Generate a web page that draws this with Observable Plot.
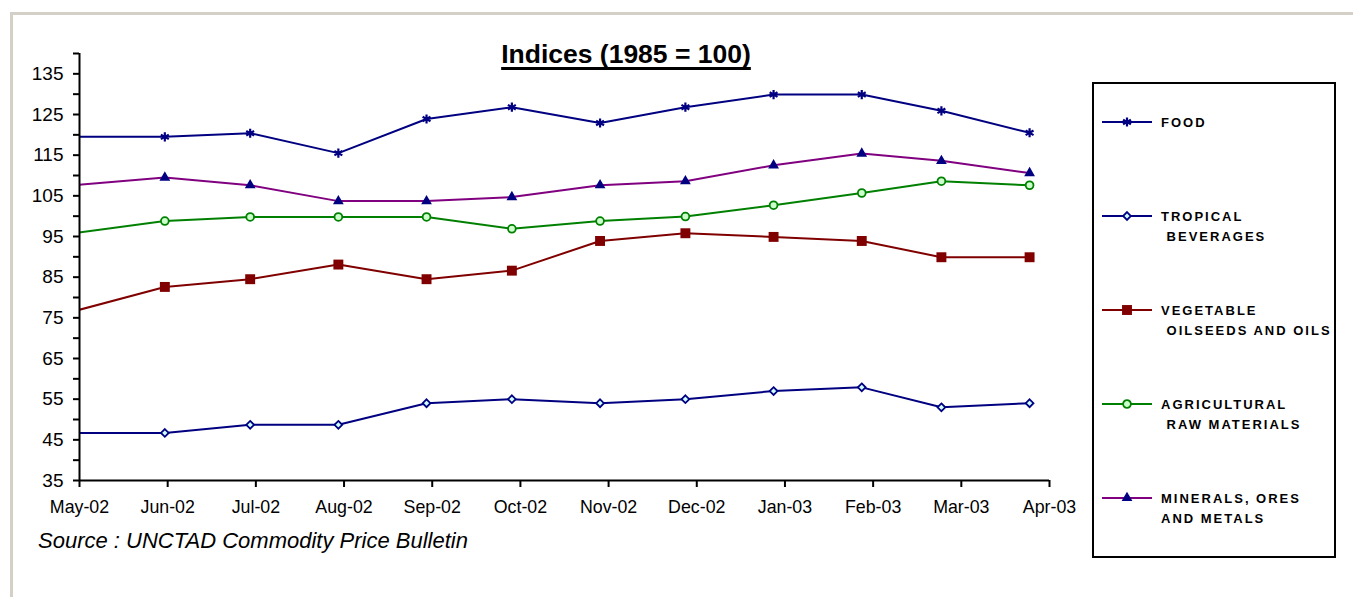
<!DOCTYPE html>
<html>
<head>
<meta charset="utf-8">
<script src="https://cdn.jsdelivr.net/npm/d3@7"></script>
<script src="https://cdn.jsdelivr.net/npm/@observablehq/plot@0.6"></script>
<style>
  body { margin: 0; background: #fff; }
  #wrap { position: relative; width: 1353px; height: 597px; overflow: hidden; font-family: "Liberation Sans", Arial, sans-serif; background: #fff; }
  #frame { position: absolute; left: 10px; top: 12px; width: 1500px; height: 800px; border-top: 3px solid #d4d0c8; border-left: 3px solid #d4d0c8; }
  #chart { position: absolute; left: 0; top: 0; }
  #title { position: absolute; left: 326px; top: 41px; width: 600px; text-align: center; font-weight: bold; font-size: 26.5px; line-height: 26px; text-decoration: underline; text-decoration-thickness: 3px; text-underline-offset: 4px; text-decoration-skip-ink: none; color: #000; }
  #source { position: absolute; left: 38px; top: 530px; font-style: italic; font-size: 22px; line-height: 21px; color: #000; white-space: nowrap; }
  #legend { position: absolute; left: 1092px; top: 82px; width: 240px; height: 472px; border: 2px solid #000; background: #fff; }
</style>
</head>
<body>
<div id="wrap">
  <div id="frame"></div>
  <div id="chart"></div>
  <div id="title">Indices (1985 = 100)</div>
  <div id="source">Source : UNCTAD Commodity Price Bulletin</div>
  <div id="legend"></div>
</div>
<script>
// ---- data ----
const dates = ["2002-04-30","2002-05-31","2002-06-30","2002-07-31","2002-08-31","2002-09-30","2002-10-31","2002-11-30","2002-12-31","2003-01-31","2003-02-28","2003-03-31"];
const food         = [119.5, 119.5, 120.4, 115.5, 123.9, 126.8, 122.9, 126.8, 129.9, 129.9, 125.9, 120.5];
const tropical     = [46.7, 46.7, 48.7, 48.7, 54.0, 55.0, 54.0, 55.0, 57.0, 57.9, 53.0, 54.0];
const vegetable    = [76.8, 82.6, 84.5, 88.1, 84.5, 86.6, 93.9, 95.8, 94.9, 93.9, 89.9, 89.9];
const agricultural = [95.9, 98.8, 99.8, 99.8, 99.8, 96.9, 98.8, 99.9, 102.7, 105.7, 108.6, 107.6];
const minerals     = [107.7, 109.5, 107.6, 103.7, 103.7, 104.7, 107.6, 108.6, 112.5, 115.4, 113.6, 110.6];

const tickDates  = ["2002-05-01","2002-06-01","2002-07-02","2002-08-02","2002-09-02","2002-10-03","2002-11-03","2002-12-04","2003-01-04","2003-02-04","2003-03-07","2003-04-07"];
const tickLabels = ["May-02","Jun-02","Jul-02","Aug-02","Sep-02","Oct-02","Nov-02","Dec-02","Jan-03","Feb-03","Mar-03","Apr-03"];
const yMajor = [35, 45, 55, 65, 75, 85, 95, 105, 115, 125, 135];
const yMinor = [40, 50, 60, 70, 80, 90, 100, 110, 120, 130, 140];

const seriesNames = [["FOOD"], ["TROPICAL", " BEVERAGES"], ["VEGETABLE", " OILSEEDS AND OILS"], ["AGRICULTURAL", " RAW MATERIALS"], ["MINERALS, ORES", "AND METALS"]];

// ---- styles ----
const styles = [
  {values: food,         line: "#000080", symbol: "asterisk", r: 4.3, fill: "none",    stroke: "#000080", sw: 2.2},
  {values: tropical,     line: "#000080", symbol: "diamond2", r: 3.5, fill: "#ccffff", stroke: "#000080", sw: 1.8},
  {values: vegetable,    line: "#800000", symbol: "square",   r: 5.6, fill: "#800000", stroke: "none",    sw: 0},
  {values: agricultural, line: "#008000", symbol: "circle",   r: 3.9, fill: "#ccffcc", stroke: "#008000", sw: 1.8},
  {values: minerals,     line: "#800080", symbol: "triangle", r: 4.0, fill: "#000080", stroke: "none",    sw: 0}
];

const parse = d3.utcParse("%Y-%m-%d");
const xStart = parse("2002-05-01"), xEnd = parse("2003-04-07");
const tickDateObjs = tickDates.map(parse);
const labelMap = new Map(tickDateObjs.map((d, i) => [+d, tickLabels[i]]));

const font = "Liberation Sans, Arial, sans-serif";
const marks = [];
styles.forEach((s, k) => {
  const rows = dates.map((d, i) => ({date: parse(d), value: s.values[i]}));
  marks.push(Plot.line(rows, {x: "date", y: "value", stroke: s.line, strokeWidth: 2, clip: true}));
  marks.push(Plot.dot(rows.filter(d => d.date >= xStart), {x: "date", y: "value", symbol: s.symbol, r: s.r, fill: s.fill, stroke: s.stroke, strokeWidth: s.sw}));
});

const chart = Plot.plot({
  width: 1353, height: 597,
  marginLeft: 79, marginRight: 304, marginTop: 53, marginBottom: 117,
  style: {fontFamily: font, background: "transparent", overflow: "visible", color: "#000"},
  x: {type: "utc", domain: [xStart, xEnd], label: null},
  y: {domain: [35, 140], label: null},
  marks: [
    Plot.axisY({ticks: yMinor, tickSize: 6, tickFormat: () => "", strokeWidth: 2, stroke: "#000", label: null}),
    Plot.axisY({ticks: yMajor, tickSize: 6, tickPadding: 10, tickFormat: d => String(d), fontSize: 19, fill: "#000", strokeWidth: 2, stroke: "#000", label: null, fontFamily: font}),
    Plot.axisX({ticks: tickDateObjs, tickSize: 7, tickPadding: 13, tickFormat: d => labelMap.get(+d), fontSize: 17.8, fill: "#000", strokeWidth: 2, stroke: "#000", label: null, fontFamily: font}),
    ...marks,
    Plot.ruleX([xStart], {stroke: "#000", strokeWidth: 2}),
    Plot.ruleY([35], {stroke: "#000", strokeWidth: 2})
  ]
});
document.getElementById("chart").appendChild(chart);

// ---- legend ----
const lg = d3.select("#legend").append("svg").attr("width", 240).attr("height", 472);
const symMap = {asterisk: d3.symbolAsterisk, diamond2: d3.symbolDiamond2, square: d3.symbolSquare, circle: d3.symbolCircle, triangle: d3.symbolTriangle};
styles.forEach((s, i) => {
  const y = 38 + i * 94;
  const g = lg.append("g");
  g.append("line").attr("x1", 8).attr("x2", 58).attr("y1", y).attr("y2", y).attr("stroke", s.line).attr("stroke-width", 2);
  g.append("path").attr("transform", `translate(33,${y})`)
    .attr("d", d3.symbol(symMap[s.symbol], Math.PI * s.r * s.r)())
    .attr("fill", s.fill).attr("stroke", s.stroke).attr("stroke-width", s.sw);
  seriesNames[i].forEach((t, j) => {
    g.append("text").attr("x", 67).attr("y", y + j * 20).attr("dy", "0.36em")
      .attr("font-family", font).attr("font-weight", "bold").attr("font-size", 13)
      .attr("letter-spacing", 2).attr("xml:space", "preserve").style("white-space", "pre").text(t);
  });
});
</script>
</body>
</html>
